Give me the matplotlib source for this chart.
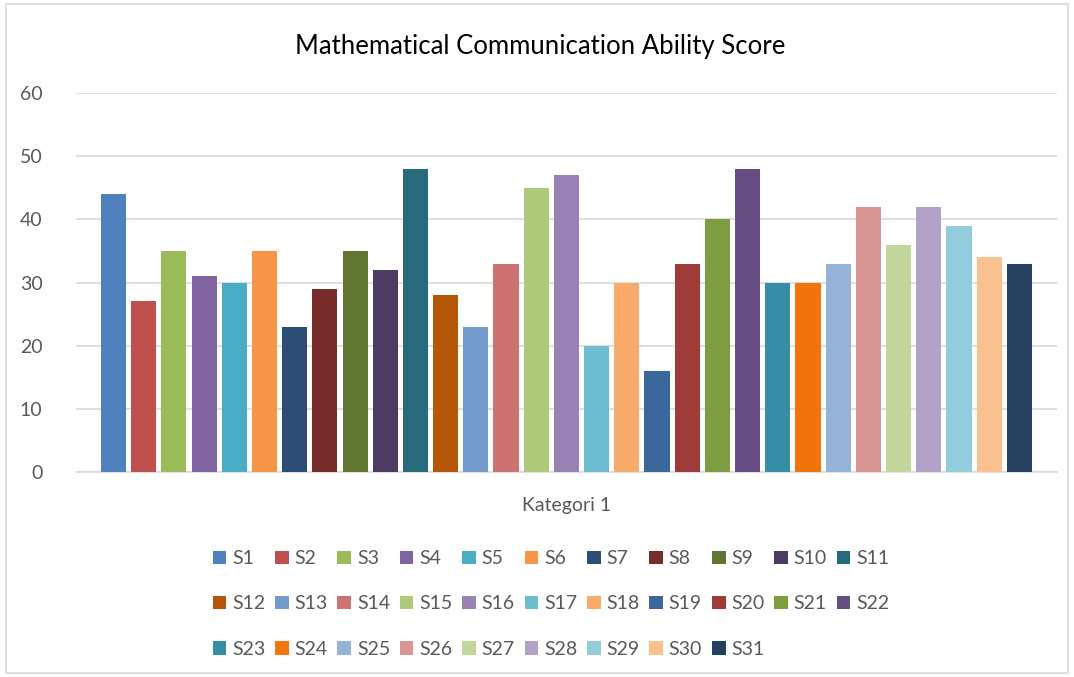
import matplotlib
matplotlib.use("Agg")
import matplotlib.pyplot as plt
from matplotlib.patches import Rectangle, Patch

plt.rcParams['font.family'] = ['Lato', 'DejaVu Sans']

series = ['S%d' % i for i in range(1, 32)]
scores = [44, 27, 35, 31, 30, 35, 23, 29, 35, 32, 48, 28, 23, 33, 45, 47,
          20, 30, 16, 33, 40, 48, 30, 30, 33, 42, 36, 42, 39, 34, 33]
colors = ['#4F81BD', '#C0504D', '#9BBB59', '#8064A2', '#4BACC6', '#F79646',
          '#2C4D75', '#772C2A', '#5F7530', '#4D3B62', '#276A7C', '#B65708',
          '#729ACA', '#CD7371', '#AFC97A', '#9983B5', '#6FBDD1', '#F9AB6B',
          '#3A679C', '#9F3B38', '#7E9C40', '#674E82', '#358EA6', '#F2750B',
          '#95B3D7', '#D99694', '#C3D69B', '#B2A2C7', '#93CDDD', '#FAC090',
          '#26405F']
category = 'Kategori 1'
yticks = [0, 10, 20, 30, 40, 50, 60]

fig = plt.figure(figsize=(10.74, 6.77), dpi=100)
ax = fig.add_axes([0.0705, 0.3028, 0.9135, 0.5598])

for i, (s, v, c) in enumerate(zip(series, scores, colors)):
    ax.bar(i, v, width=0.83, color=c, label=s, zorder=3)

ax.set_xlim(-1.25, 31.24)
ax.set_ylim(0, 60)
ax.set_yticks(yticks)
ax.yaxis.grid(True, color='#D9D9D9', linewidth=1.2, zorder=0)
ax.set_xticks([15])
ax.set_xticklabels([category])
ax.tick_params(length=0, labelsize=14, colors='#595959')
ax.tick_params(axis='x', pad=18)
ax.tick_params(axis='y', pad=24)
for sp in ['top', 'right', 'left']:
    ax.spines[sp].set_visible(False)
ax.spines['bottom'].set_color('#D9D9D9')
ax.spines['bottom'].set_linewidth(1.2)

fig.text(0.503, 0.932, 'Mathematical Communication Ability Score',
         ha='center', va='center', fontsize=18.5, color='#000000')

# legend reads row by row, matplotlib fills column by column
ncol = 11
order = [r * ncol + c for c in range(ncol) for r in range(3) if r * ncol + c < len(series)]
handles = [Patch(facecolor=colors[k], label=series[k]) for k in order]
fig.legend(handles=handles, ncol=ncol, loc='center', bbox_to_anchor=(0.513, 0.108),
           frameon=False, fontsize=14, labelcolor='#595959',
           handlelength=0.7, handleheight=0.7, handletextpad=0.3,
           columnspacing=0.5, labelspacing=1.45)

fig.patches.append(Rectangle((0.006, 0.006), 0.988, 0.988, transform=fig.transFigure,
                             fill=False, edgecolor='#D9D9D9', linewidth=1.2))

fig.savefig('out.png', dpi=100, facecolor='white')
